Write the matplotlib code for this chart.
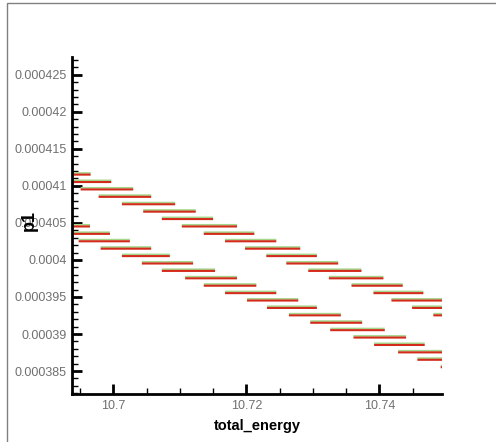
import matplotlib
matplotlib.use("Agg")
import matplotlib.pyplot as plt
import matplotlib.transforms as mtransforms
from matplotlib.patches import Rectangle
from matplotlib.ticker import MultipleLocator, FuncFormatter

# upper band: p1 level, energy start, energy end
band1_p1 = [0.0004116, 0.0004106, 0.0004096, 0.0004086, 0.0004076, 0.0004066, 0.0004056,
            0.0004046, 0.0004036, 0.0004026, 0.0004016, 0.0004006, 0.0003996, 0.0003986,
            0.0003976, 0.0003966, 0.0003956, 0.0003946, 0.0003936, 0.0003926]
band1_x0 = [10.6930, 10.6930, 10.6951, 10.6978, 10.7013, 10.7045, 10.7073, 10.7103, 10.7136, 10.7168,
            10.7198, 10.7230, 10.7260, 10.7293, 10.7324, 10.7358, 10.7391, 10.7418, 10.7449, 10.7481]
band1_x1 = [10.6966, 10.6997, 10.7030, 10.7057, 10.7093, 10.7124, 10.7150, 10.7186, 10.7212, 10.7245,
            10.7281, 10.7306, 10.7338, 10.7373, 10.7406, 10.7435, 10.7466, 10.7494, 10.7494, 10.7494]

# lower band
band2_p1 = [0.0004046, 0.0004036, 0.0004026, 0.0004016, 0.0004006, 0.0003996, 0.0003986,
            0.0003976, 0.0003966, 0.0003956, 0.0003946, 0.0003936, 0.0003926, 0.0003916,
            0.0003906, 0.0003896, 0.0003886, 0.0003876, 0.0003866, 0.0003856]
band2_x0 = [10.6930, 10.6930, 10.6948, 10.6981, 10.7013, 10.7043, 10.7073, 10.7108, 10.7136, 10.7168,
            10.7201, 10.7231, 10.7264, 10.7296, 10.7326, 10.7361, 10.7392, 10.7428, 10.7457, 10.7492]
band2_x1 = [10.6965, 10.6995, 10.7025, 10.7057, 10.7085, 10.7120, 10.7153, 10.7186, 10.7215, 10.7245,
            10.7278, 10.7306, 10.7342, 10.7374, 10.7408, 10.7440, 10.7468, 10.7494, 10.7494, 10.7494]

fig = plt.figure(figsize=(4.96, 4.42), dpi=100)
ax = fig.add_axes([72 / 496, 1 - 394 / 442, 370 / 496, 337 / 442])

up = mtransforms.offset_copy(ax.transData, fig=fig, x=0, y=1.0, units='dots')
down = mtransforms.offset_copy(ax.transData, fig=fig, x=0, y=-0.6, units='dots')

for p, a, b in [(band1_p1, band1_x0, band1_x1), (band2_p1, band2_x0, band2_x1)]:
    ax.hlines(p, a, b, colors='#a6d68c', linewidth=1.3, transform=up, snap=False)
    ax.hlines(p, a, b, colors='#d42a1c', linewidth=1.5, transform=down, snap=False)

ax.set_xlim(10.6938, 10.7494)
ax.set_ylim(0.0003819, 0.0004274)

for s in ['top', 'right']:
    ax.spines[s].set_visible(False)
for s in ['left', 'bottom']:
    ax.spines[s].set_linewidth(2)

ax.xaxis.set_major_locator(MultipleLocator(0.02))
ax.xaxis.set_minor_locator(MultipleLocator(0.005))
ax.yaxis.set_major_locator(MultipleLocator(0.000005))
ax.yaxis.set_minor_locator(MultipleLocator(0.000001))
ax.xaxis.set_major_formatter(FuncFormatter(lambda v, pos: ('%.4f' % v).rstrip('0').rstrip('.')))
ax.yaxis.set_major_formatter(FuncFormatter(lambda v, pos: ('%.6f' % v).rstrip('0').rstrip('.')))

ax.tick_params(which='major', direction='in', length=7, width=2, labelsize=9, labelcolor='#707070')
ax.tick_params(axis='x', which='major', pad=4)
ax.tick_params(axis='y', which='major', pad=4)
ax.tick_params(which='minor', direction='in', length=4, width=1)
for lab in ax.get_xticklabels() + ax.get_yticklabels():
    lab.set_family('Liberation Sans')

ax.set_xlabel('total_energy', family='Liberation Sans', fontweight='bold', fontsize=10.5)
ax.set_ylabel('p1', family='Liberation Sans', fontweight='bold', fontsize=13)
ax.xaxis.set_label_coords((257 - 72) / 370, -(419 - 394) / 337)
ax.yaxis.set_label_coords((38 - 72) / 370, 1 - (220 - 57) / 337)

fig.patches.append(Rectangle((7 / 496, -0.05), 1.1, 1.05 - 3 / 442, transform=fig.transFigure,
                             fill=False, edgecolor='#808080', linewidth=1))

fig.savefig('out.png', dpi=100)
